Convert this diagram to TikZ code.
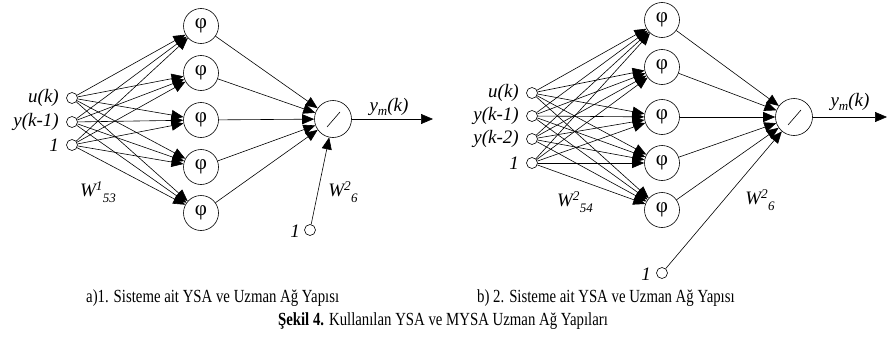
\documentclass[tikz,border=0pt]{standalone}
\usepackage{fontspec}
\setmainfont{Liberation Serif}
\usetikzlibrary{arrows.meta}
\begin{document}
\begin{tikzpicture}[x=1pt,y=-1pt,
  hid/.style={circle,draw,minimum size=35pt,inner sep=0pt,line width=0.6pt,font=\fontsize{21}{21}\selectfont},
  inp/.style={circle,draw,minimum size=11pt,inner sep=0pt,line width=0.6pt},
  outn/.style={circle,draw,minimum size=37pt,inner sep=0pt,line width=0.6pt},
  conn/.style={-{Triangle[length=12pt,width=10pt]},line width=0.6pt},
  plain/.style={line width=0.6pt},
  lab/.style={font=\fontsize{19}{19}\selectfont\itshape,inner sep=0pt},
  captxt/.style={font=\fontsize{18.5}{20}\selectfont,inner sep=0pt}]
\useasboundingbox (0,0) rectangle (887,340);
% ---------- left network ----------
\foreach \i/\y in {1/98,2/122,3/145} \node[inp] (a\i) at (72,\y) {};
\foreach \i/\y in {1/26,2/73,3/120,4/167,5/213} \node[hid] (h\i) at (201,\y) {φ};
\node[outn] (o) at (333,119) {};
\draw[plain] ([shift={(-6,8)}]o.center) -- ([shift={(7,-7)}]o.center);
\node[inp] (b) at (310,230) {};
\coordinate (oe) at (433,119);
\foreach \i in {1,2,3} \foreach \j in {1,...,5} \draw[conn] (a\i) -- (h\j);
\foreach \j in {1,...,5} \draw[conn] (h\j) -- (o);
\draw[conn] (b) -- (o);
\draw[conn] (o) -- (oe);
\node[lab,anchor=east] (la1) at (59,98) {u(k)};
\node[lab,anchor=east] (la2) at (59,122) {y(k-1)};
\node[lab,anchor=east] (la3) at (59,145) {1};
\node[lab,anchor=east] (lb) at (300,231) {1};
\node[lab] (w1) at (98,192) {W\textsuperscript{1}\raisebox{-0.6ex}{\fontsize{13}{13}\selectfont 53}};
\node[lab] (w2) at (343,192) {W\textsuperscript{2}\raisebox{-0.6ex}{\fontsize{13}{13}\selectfont 6}};
\node[lab] (ly) at (389,107) {y\raisebox{-0.4ex}{\fontsize{13}{13}\selectfont m}(k)};
% ---------- right network ----------
\foreach \i/\y in {1/93,2/116,3/139,4/163} \node[inp] (c\i) at (532,\y) {};
\foreach \i/\y in {1/20,2/67,3/117,4/163,5/210} \node[hid] (g\i) at (662,\y) {φ};
\node[outn] (p) at (794,117) {};
\draw[plain] ([shift={(-6,8)}]p.center) -- ([shift={(7,-7)}]p.center);
\node[inp] (d) at (662,273) {};
\coordinate (pe) at (887,117);
\foreach \i in {1,...,4} \foreach \j in {1,...,5} \draw[conn] (c\i) -- (g\j);
\foreach \j in {1,...,5} \draw[conn] (g\j) -- (p);
\draw[conn] (d) -- (p);
\draw[conn] (p) -- (pe);
\node[lab,anchor=east] (lc1) at (519,93) {u(k)};
\node[lab,anchor=east] (lc2) at (519,116) {y(k-1)};
\node[lab,anchor=east] (lc3) at (519,139) {y(k-2)};
\node[lab,anchor=east] (lc4) at (519,163) {1};
\node[lab,anchor=east] (ld) at (651,274) {1};
\node[lab] (w3) at (575,202) {W\textsuperscript{2}\raisebox{-0.6ex}{\fontsize{13}{13}\selectfont 54}};
\node[lab] (w4) at (760,200) {W\textsuperscript{2}\raisebox{-0.6ex}{\fontsize{13}{13}\selectfont 6}};
\node[lab] (ly2) at (850,102) {y\raisebox{-0.4ex}{\fontsize{13}{13}\selectfont m}(k)};
% ---------- captions ----------
\node[captxt,anchor=west] (ca) at (86,298) {\scalebox{0.8}[1]{a)1. Sisteme ait YSA ve Uzman Ağ Yapısı}};
\node[captxt,anchor=west] (cb) at (477,298) {\scalebox{0.8}[1]{b) 2. Sisteme ait YSA ve Uzman Ağ Yapısı}};
\node[captxt] (cc) at (443,321) {\scalebox{0.8}[1]{\textbf{Şekil 4.} Kullanılan YSA ve MYSA Uzman Ağ Yapıları}};
\end{tikzpicture}
\end{document}
